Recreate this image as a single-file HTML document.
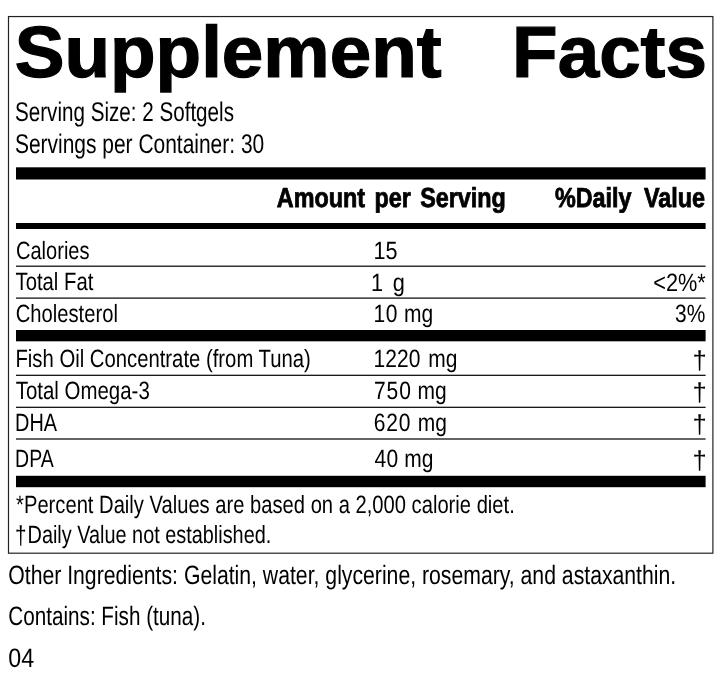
<!DOCTYPE html>
<html lang="en"><head><meta charset="utf-8"><title>Supplement Facts</title>
<style>
html,body{margin:0;padding:0;background:#fff;overflow:hidden;}
body{width:720px;height:677px;position:relative;font-family:"Liberation Sans",sans-serif;color:#000;text-rendering:geometricPrecision;}
.box{position:absolute;border:1px solid #333;}
.t{position:absolute;left:0;top:0;white-space:pre;line-height:1;transform-origin:0 0;margin:0;font-weight:400;}
.b{font-weight:700;}
.g{position:absolute;left:0;top:0;}
.d{font-size:26px;line-height:0;position:relative;top:1px;margin-right:1.4px;}
</style></head><body>
<svg class="g" width="720" height="677" viewBox="0 0 720 677">
<rect x="8.5" y="16.55" width="704.4" height="536.65" fill="none" stroke="#222" stroke-width="1.2"/>
<rect x="16" y="167.3" width="689.6" height="12.2" fill="#000"/>
<rect x="16" y="223" width="689.6" height="6" fill="#000"/>
<rect x="16" y="265.6" width="689.6" height="1.2" fill="#000"/>
<rect x="16" y="297.5" width="689.6" height="1.2" fill="#000"/>
<rect x="16" y="330" width="689.6" height="11.3" fill="#000"/>
<rect x="16" y="374.7" width="689.6" height="1.2" fill="#000"/>
<rect x="16" y="406.7" width="689.6" height="1.2" fill="#000"/>
<rect x="16" y="438.4" width="689.6" height="1.2" fill="#000"/>
<rect x="16" y="475.8" width="689.6" height="11.4" fill="#000"/>
</svg>
<div class="t b" style="-webkit-text-stroke:1.2px #000;font-size:72.5px;transform:translate(14.65px,16.61px) scaleX(1.0291)">Supplement</div>
<div class="t b" style="-webkit-text-stroke:1.2px #000;font-size:72.5px;transform:translate(512.10px,16.61px) scaleX(1.0287)">Facts</div>
<div class="t" style="font-size:27px;transform:translate(15.01px,99.14px) scaleX(0.7638)">Serving Size: 2 Softgels</div>
<div class="t" style="font-size:27px;transform:translate(14.94px,131.14px) scaleX(0.7761)">Servings per Container: 30</div>
<div class="t b" style="-webkit-text-stroke:0.8px #000;word-spacing:3.36px;font-size:27.5px;transform:translate(276.77px,183.72px) scaleX(0.8500)">Amount per Serving</div>
<div class="t b" style="-webkit-text-stroke:0.8px #000;word-spacing:6.99px;font-size:27.5px;transform:translate(554.88px,183.72px) scaleX(0.8500)">%Daily Value</div>
<div class="t" style="font-size:25px;transform:translate(15.93px,238.83px) scaleX(0.8031)">Calories</div>
<div class="t" style="font-size:25px;transform:translate(373.51px,238.83px) scaleX(0.8632)">15</div>
<div class="t" style="font-size:25px;transform:translate(15.57px,269.83px) scaleX(0.8106)">Total Fat</div>
<div class="t" style="word-spacing:4.35px;font-size:25px;transform:translate(370.94px,270.83px) scaleX(0.8700)">1 g</div>
<div class="t" style="font-size:25px;transform:translate(653.20px,270.83px) scaleX(0.8690)">&lt;2%*</div>
<div class="t" style="font-size:25px;transform:translate(15.73px,301.83px) scaleX(0.8078)">Cholesterol</div>
<div class="t" style="word-spacing:0.75px;font-size:25px;transform:translate(373.62px,301.83px) scaleX(0.8400)"><span style="letter-spacing:.4px">10</span> mg</div>
<div class="t" style="font-size:25px;transform:translate(675.03px,301.83px) scaleX(0.8372)">3%</div>
<div class="t" style="font-size:25px;transform:translate(15.42px,346.83px) scaleX(0.8114)">Fish Oil Concentrate (from Tuna)</div>
<div class="t" style="word-spacing:2.60px;font-size:25px;transform:translate(373.62px,346.83px) scaleX(0.8400)">1220 mg</div>
<div class="t" style="font-size:26px;transform:translate(692.61px,346.99px) scaleX(0.9806)">†</div>
<div class="t" style="font-size:25px;transform:translate(15.70px,378.83px) scaleX(0.8176)">Total Omega-3</div>
<div class="t" style="word-spacing:-0.09px;font-size:25px;transform:translate(374.10px,378.83px) scaleX(0.8400)"><span style="letter-spacing:1px">750</span> mg</div>
<div class="t" style="font-size:26px;transform:translate(692.61px,378.99px) scaleX(0.9806)">†</div>
<div class="t" style="font-size:25px;transform:translate(15.01px,410.83px) scaleX(0.7962)">DHA</div>
<div class="t" style="word-spacing:0.69px;font-size:25px;transform:translate(373.79px,410.83px) scaleX(0.8400)"><span style="letter-spacing:1px">620</span> mg</div>
<div class="t" style="font-size:26px;transform:translate(692.61px,410.99px) scaleX(0.9806)">†</div>
<div class="t" style="font-size:25px;transform:translate(15.05px,446.83px) scaleX(0.7797)">DPA</div>
<div class="t" style="word-spacing:-0.03px;font-size:25px;transform:translate(374.51px,446.83px) scaleX(0.8400)"><span style="letter-spacing:.4px">40</span> mg</div>
<div class="t" style="font-size:26px;transform:translate(692.61px,446.99px) scaleX(0.9806)">†</div>
<div class="t" style="font-size:25px;transform:translate(16.08px,492.83px) scaleX(0.8070)">*Percent Daily Values are based on a 2,000 calorie diet.</div>
<div class="t" style="font-size:25px;transform:translate(14.94px,522.83px) scaleX(0.7948)"><span class="d">†</span>Daily Value not established.</div>
<div class="t" style="font-size:26.6px;transform:translate(8.26px,562.48px) scaleX(0.7974)">Other Ingredients: Gelatin, water, glycerine, rosemary, and astaxanthin.</div>
<div class="t" style="font-size:26.6px;transform:translate(8.29px,603.48px) scaleX(0.7774)">Contains: Fish (tuna).</div>
<div class="t" style="font-size:26.6px;transform:translate(8.27px,645.48px) scaleX(0.8736)">04</div>
</body></html>
